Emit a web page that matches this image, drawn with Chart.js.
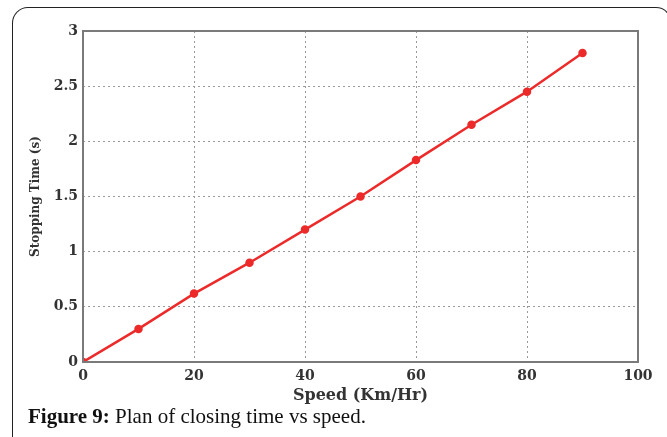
<!DOCTYPE html>
<html>
<head>
    <title>Stopping Time vs Speed</title>
    <script src="https://cdn.jsdelivr.net/npm/chart.js"></script>
    <style>
        body { margin: 0; background: #fff; width: 667px; height: 437px; overflow: hidden; position: relative; }
        #frame {
            position: absolute; left: 12px; top: 7px; width: 660px; height: 440px;
            border: 1.5px solid #222; border-bottom: none; border-radius: 16px 16px 0 0;
            box-sizing: border-box;
        }
        #wrap { position: absolute; left: 0; top: 0; width: 667px; height: 405px; }
        #caption {
            position: absolute; left: 28px; top: 404px;
            font-family: "Liberation Serif", serif; font-size: 21px; color: #111;
        }
    </style>
</head>
<body>
    <div id="frame"></div>
    <div id="wrap"><canvas id="stopChart"></canvas></div>
    <div id="caption"><b>Figure 9:</b> Plan of closing time vs speed.</div>

    <script>
        // Data
        const speeds = [0, 10, 20, 30, 40, 50, 60, 70, 80, 90];
        const stoppingTimes = [0, 0.3, 0.62, 0.9, 1.2, 1.5, 1.83, 2.15, 2.45, 2.8];

        const tickFont = { family: "DejaVu Serif", size: 14, weight: "bold" };

        // box around the plot area, like the matlab axes
        const boxPlugin = {
            id: "box",
            afterDraw(chart) {
                const a = chart.chartArea;
                const ctx = chart.ctx;
                ctx.save();
                ctx.strokeStyle = "#7a7a7a";
                ctx.lineWidth = 2;
                ctx.strokeRect(a.left, a.top, a.right - a.left, a.bottom - a.top);
                ctx.restore();
            }
        };

        const ctx = document.getElementById("stopChart").getContext("2d");
        new Chart(ctx, {
            type: "line",
            data: {
                datasets: [{
                    label: "Stopping Time",
                    data: speeds.map((s, i) => ({ x: s, y: stoppingTimes[i] })),
                    borderColor: "#ec2a2a",
                    backgroundColor: "#ec2a2a",
                    borderWidth: 2.5,
                    pointRadius: 3,
                    pointStyle: "circle",
                    fill: false,
                    tension: 0,
                }],
            },
            options: {
                responsive: true,
                maintainAspectRatio: false,
                animation: false,
                layout: { padding: { left: 29, right: 29, top: 31, bottom: 0 } },
                plugins: { legend: { display: false }, tooltip: { enabled: false } },
                scales: {
                    x: {
                        type: "linear",
                        min: 0, max: 100,
                        ticks: { stepSize: 20, color: "#333", font: tickFont, padding: 6 },
                        grid: { color: "#9a9a9a", drawTicks: false },
                        border: { display: false, dash: [2, 3] },
                        title: { display: true, text: "Speed (Km/Hr)", color: "#333", font: { family: "DejaVu Serif", size: 16, weight: "bold" }, padding: 0 },
                        afterFit(scale) { scale.height = 43; },
                    },
                    y: {
                        min: 0, max: 3,
                        ticks: { stepSize: 0.5, color: "#333", font: tickFont, padding: 5,
                            callback: (v) => String(v) },
                        grid: { color: "#9a9a9a", drawTicks: false },
                        border: { display: false, dash: [2, 3] },
                        title: { display: true, text: "Stopping Time (s)", color: "#333", font: { family: "DejaVu Serif", size: 12, weight: "bold" }, padding: 0 },
                        afterFit(scale) { scale.width = 54; },
                    },
                },
            },
            plugins: [boxPlugin],
        });
    </script>
</body>
</html>
